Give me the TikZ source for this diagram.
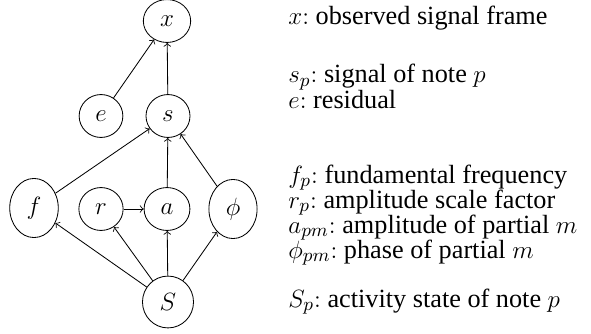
\documentclass[tikz,border=0pt]{standalone}
\usepackage[no-math]{fontspec}
\setmainfont{Liberation Serif}
\usetikzlibrary{shapes.geometric}
\tikzset{
  var/.style={draw, ellipse, inner sep=4.7pt, font=\large},
  edge/.style={->, thin},
  legend/.style={anchor=base west, inner sep=0pt, font=\fontsize{12.6}{15}\selectfont}
}
\begin{document}
\begin{tikzpicture}[x=0.48pt,y=-0.48pt]
\useasboundingbox (0,0) rectangle (591,334);
\node[var] (x) at (167,21) {$x$};
\node[var] (e) at (101,116) {$e$};
\node[var] (s) at (168,116) {$s$};
\node[var] (f) at (34,208) {$f$};
\node[var] (r) at (101,209) {$r$};
\node[var] (a) at (167,209) {$a$};
\node[var] (phi) at (233,209) {$\phi$};
\node[var] (S) at (168,302) {$S$};
\draw[edge] (e) -- (x);
\draw[edge] (s) -- (x);
\draw[edge] (f) -- (s);
\draw[edge] (a) -- (s);
\draw[edge] (phi) -- (s);
\draw[edge] (r) -- (a);
\draw[edge] (S) -- (f);
\draw[edge] (S) -- (r);
\draw[edge] (S) -- (a);
\draw[edge] (S) -- (phi);
\node[legend] (l1) at (288,25) {$x{:}$ observed signal frame};
\node[legend] (l2) at (288,83) {$s_p{:}$ signal of note $p$};
\node[legend] (l3) at (288,108) {$e{:}$ residual};
\node[legend] (l4) at (288,183) {$f_p{:}$ fundamental frequency};
\node[legend] (l5) at (288,208) {$r_p{:}$ amplitude scale factor};
\node[legend] (l6) at (288,233) {$a_{pm}{:}$ amplitude of partial $m$};
\node[legend] (l7) at (288,258) {$\phi_{pm}{:}$ phase of partial $m$};
\node[legend] (l8) at (288,307) {$S_p{:}$ activity state of note $p$};
\end{tikzpicture}
\end{document}
